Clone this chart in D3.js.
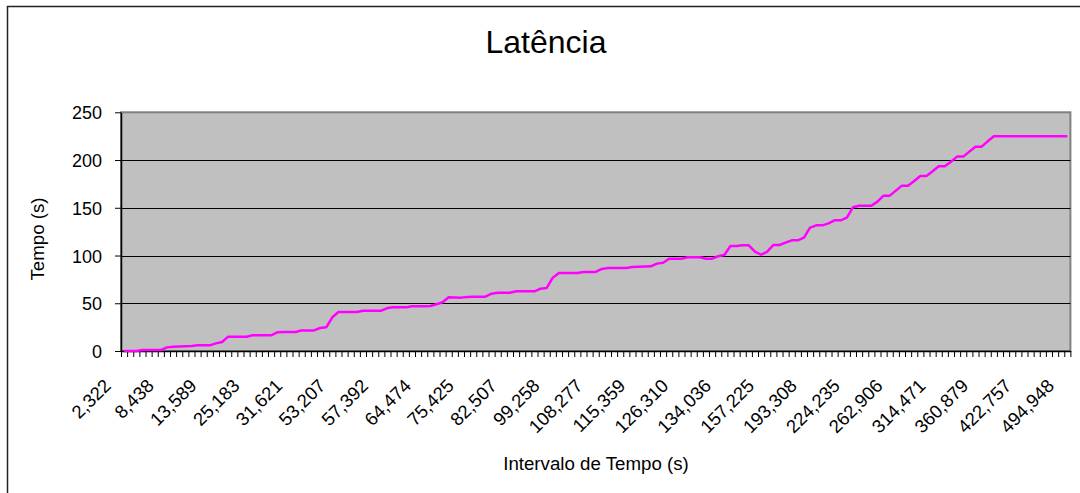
<!DOCTYPE html>
<html>
<head>
<meta charset="utf-8">
<title>Latência</title>
<style>
    body { margin: 0; background: #fff; }
    svg text { font-family: "Liberation Sans", Arial, sans-serif; fill: #000; }
</style>
</head>
<body>
<div class="plot_container"></div>
<script src="https://cdn.jsdelivr.net/npm/d3@7"></script>
<script type="text/javascript">
    // labels shown on the x axis (one every 7 categories)
    var tickLabels = ["2,322","8,438","13,589","25,183","31,621","53,207","57,392","64,474",
        "75,425","82,507","99,258","108,277","115,359","126,310","134,036","157,225",
        "193,308","224,235","262,906","314,471","360,879","422,757","494,948"];
    var labelStep = 7;

    // latency (s), one value per interval
    var latencia = [
        0, 0, 0, 1, 1, 1, 1, 3.8, 4.5, 4.7,
        5, 5.2, 5.9, 5.9, 5.9, 8, 9.4, 15, 15, 15,
        15, 16.4, 16.4, 16.4, 16.4, 19.6, 19.8, 19.9, 19.9, 21.6,
        21.6, 21.6, 24.1, 24.8, 35.3, 40.9, 40.9, 40.9, 40.9, 42.2,
        42.2, 42.2, 42.2, 45, 45.7, 45.7, 45.7, 46.8, 46.8, 46.8,
        47.1, 49, 51, 56.2, 56, 55.9, 56.5, 56.9, 56.9, 56.9,
        60, 61.1, 61.1, 61.1, 62.5, 62.5, 62.5, 62.5, 65.3, 66,
        76.8, 81.7, 81.7, 81.7, 81.7, 82.8, 82.8, 82.8, 85.9, 86.9,
        86.9, 86.9, 86.9, 88, 88.2, 88.5, 88.7, 91.5, 92.5, 96.7,
        96.7, 96.7, 98.1, 98.1, 98.1, 96.7, 96.7, 99.2, 100.6, 110,
        110, 110.7, 110.7, 104, 100.8, 104, 111, 111, 113.5, 115.9,
        115.9, 118.7, 129.2, 131.6, 131.6, 133.7, 136.9, 136.9, 139.7, 150.5,
        152.2, 152.2, 152.2, 156.4, 162.7, 162.7, 168, 173.2, 173.2, 178,
        183.3, 183.3, 188.2, 193.4, 193.4, 198.3, 203.6, 203.6, 208.8, 214,
        214, 219.6, 224.9, 224.9, 224.9, 224.9, 224.9, 224.9, 224.9, 224.9,
        224.9, 224.9, 224.9, 224.9, 224.9
    ];

    var yTicks = [0, 50, 100, 150, 200, 250];

    var width = 1080;
    var height = 493;
    var plotLeft = 121, plotRight = 1070.4, plotTop = 112.3, plotBottom = 351;

    var svg = d3.select(".plot_container").append("svg")
            .attr("width", width)
            .attr("height", height);

    // chart area border (runs past the right and bottom edge)
    svg.append("rect")
            .attr("x", 7.5).attr("y", 6.5)
            .attr("width", 1100).attr("height", 520)
            .style("fill", "#fff")
            .style("stroke", "#222")
            .style("stroke-width", 1.5);

    var x = d3.scaleBand()
            .domain(d3.range(latencia.length))
            .range([plotLeft, plotRight]);
    var xEdge = d3.scaleLinear()
            .domain([0, latencia.length])
            .range([plotLeft, plotRight]);
    var y = d3.scaleLinear()
            .domain([0, 250])
            .range([plotBottom, plotTop]);

    // plot area
    svg.append("rect")
            .attr("x", plotLeft).attr("y", plotTop)
            .attr("width", plotRight - plotLeft).attr("height", plotBottom - plotTop)
            .style("fill", "#c0c0c0")
            .style("stroke", "#808080")
            .style("stroke-width", 2);

    // gridlines
    svg.selectAll(".grid")
            .data(yTicks.filter(function(d){ return d > 0 && d < 250; }))
            .enter()
            .append("line")
            .attr("class", "grid")
            .attr("x1", plotLeft).attr("x2", plotRight)
            .attr("y1", function(d){ return Math.round(y(d)) + 0.5; })
            .attr("y2", function(d){ return Math.round(y(d)) + 0.5; })
            .style("stroke", "#000")
            .style("stroke-width", 1);

    // y axis
    var yAxis = svg.append("g")
            .attr("transform", "translate(" + plotLeft + ",0)")
            .call(d3.axisLeft(y).tickValues(yTicks).tickSize(6).tickPadding(13).tickSizeOuter(0));
    yAxis.select(".domain").style("stroke", "#000").style("stroke-width", 1.5);
    yAxis.selectAll(".tick line").style("stroke", "#000");
    yAxis.selectAll("text").style("font-size", "18px").attr("dy", "0.36em");

    // x axis tick marks at every category boundary
    var xTicks = svg.append("g")
            .attr("transform", "translate(0," + plotBottom + ")")
            .call(d3.axisBottom(xEdge).tickValues(d3.range(latencia.length + 1)).tickSize(6).tickSizeOuter(0).tickFormat(""));
    xTicks.select(".domain").style("stroke", "#000").style("stroke-width", 1.5);
    xTicks.selectAll(".tick line").style("stroke", "#000");

    // x axis labels
    var xLabels = svg.append("g")
            .attr("transform", "translate(0," + plotBottom + ")")
            .call(d3.axisBottom(x)
                    .tickValues(d3.range(0, latencia.length, labelStep))
                    .tickSize(0)
                    .tickFormat(function(d){ return tickLabels[d / labelStep]; }));
    xLabels.select(".domain").remove();
    xLabels.selectAll("text")
            .style("font-size", "18.5px")
            .style("text-anchor", "end")
            .attr("dy", null)
            .attr("y", 0)
            .attr("transform", "translate(-12,36) rotate(-45)");

    // latency line
    var line = d3.line()
            .x(function(d, i){ return x(i) + x.bandwidth() / 2; })
            .y(function(d){ return y(d); });

    svg.append("path")
            .datum(latencia)
            .attr("d", line)
            .style("fill", "none")
            .style("stroke", "#ff00ff")
            .style("stroke-width", 2.5)
            .style("stroke-linejoin", "round");

    // titles
    svg.append("text")
            .attr("x", 546).attr("y", 53)
            .style("text-anchor", "middle")
            .style("font-size", "32px")
            .text("Latência");

    svg.append("text")
            .attr("x", 596).attr("y", 470)
            .style("text-anchor", "middle")
            .style("font-size", "18.7px")
            .text("Intervalo de Tempo (s)");

    svg.append("text")
            .attr("transform", "translate(43.5,239) rotate(-90)")
            .style("text-anchor", "middle")
            .style("font-size", "18.7px")
            .text("Tempo (s)");
</script>
</body>
</html>
